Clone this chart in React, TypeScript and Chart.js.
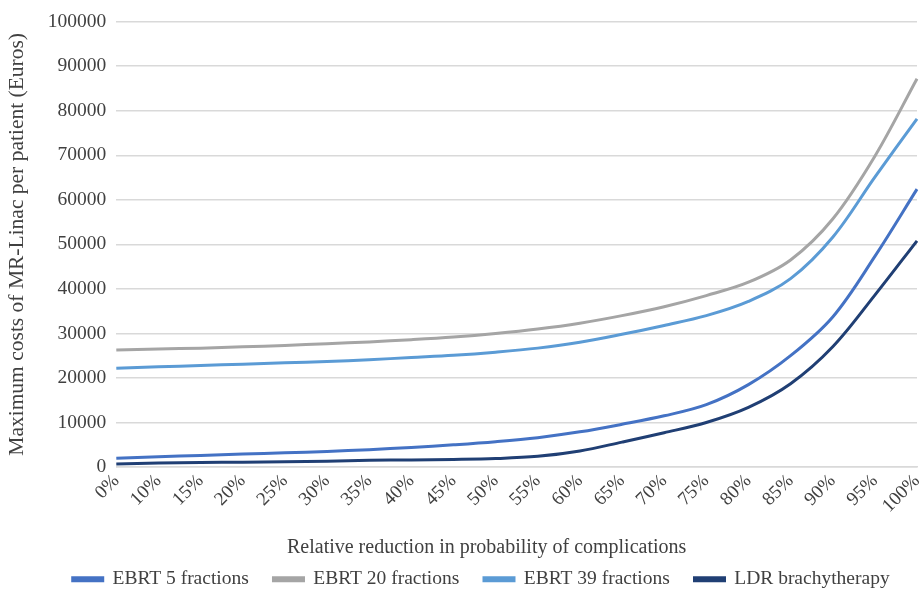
import React, { useEffect, useRef } from "react";
import { Chart, registerables } from "chart.js";

Chart.register(...registerables);

const categories = ["0%", "10%", "15%", "20%", "25%", "30%", "35%", "40%", "45%", "50%", "55%", "60%", "65%", "70%", "75%", "80%", "85%", "90%", "95%", "100%"];

const ebrt5 = [2000, 2300, 2600, 2900, 3200, 3500, 3900, 4400, 5000, 5700, 6600, 7900, 9600, 11500, 14000, 18500, 25000, 33700, 47300, 62400];
const ebrt20 = [26300, 26500, 26700, 27000, 27300, 27700, 28100, 28600, 29200, 30000, 31000, 32300, 34000, 36000, 38500, 41500, 46500, 55700, 69800, 87200];
const ebrt39 = [22200, 22500, 22800, 23100, 23400, 23700, 24100, 24600, 25100, 25800, 26700, 28000, 29800, 31800, 34000, 37200, 42300, 51600, 65100, 78200];
const ldr = [700, 900, 1000, 1100, 1200, 1300, 1500, 1600, 1700, 1900, 2400, 3600, 5600, 7700, 10000, 13400, 18700, 27000, 38600, 50800];

const seriesNames = ["EBRT 5 fractions", "EBRT 20 fractions", "EBRT 39 fractions", "LDR brachytherapy"];
const seriesColors = ["#4472C4", "#A5A5A5", "#5B9BD5", "#203F74"];

const yTicks = [0, 10000, 20000, 30000, 40000, 50000, 60000, 70000, 80000, 90000, 100000];

const xTitle = "Relative reduction in probability of complications";
const yTitle = "Maximum costs of MR-Linac per patient (Euros)";

export default function App() {
  const ref = useRef<HTMLCanvasElement | null>(null);
  useEffect(() => {
    if (!ref.current) return;
    const font = "'Liberation Serif', 'Times New Roman', serif";
    const values = [ebrt5, ebrt20, ebrt39, ldr];
    const shiftLegend = {
      id: "shiftLegend",
      afterLayout(chart: any) {
        const l = chart.legend;
        if (l) {
          l.left += 28;
          l.right += 28;
        }
      },
    };
    const chart = new Chart(ref.current, {
      type: "line",
      data: {
        labels: categories,
        datasets: values.map((v, i) => ({
          label: seriesNames[i],
          data: v,
          borderColor: seriesColors[i],
          backgroundColor: seriesColors[i],
          borderWidth: 3,
          pointRadius: 0,
          tension: 0.35,
          fill: false,
        })),
      },
      plugins: [shiftLegend],
      options: {
        animation: false,
        responsive: true,
        maintainAspectRatio: false,
        layout: { padding: { left: 4, right: 2, top: 14, bottom: -5 } },
        plugins: {
          legend: {
            position: "bottom",
            labels: {
              font: { family: font, size: 19.5 },
              color: "#404040",
              boxWidth: 30,
              boxHeight: 3,
              padding: 10,
              generateLabels: (chart: any) => {
                const items = Chart.defaults.plugins.legend.labels.generateLabels(chart);
                return items.map((it: any) => ({ ...it, text: it.text + "   " }));
              },
            },
          },
          tooltip: { enabled: false },
        },
        scales: {
          x: {
            offset: false,
            grid: { display: false, drawTicks: false },
            border: { display: true, color: "#D9D9D9", width: 1.5 },
            afterFit: (scale: any) => {
              scale.paddingRight = 0;
            },
            ticks: {
              maxRotation: 45,
              minRotation: 45,
              autoSkip: false,
              font: { family: font, size: 19 },
              color: "#404040",
              padding: 3,
            },
            title: {
              display: true,
              text: xTitle + "            ",
              font: { family: font, size: 20 },
              color: "#404040",
              padding: { top: 15, bottom: 0 },
            },
          },
          y: {
            min: 0,
            max: 100000,
            afterBuildTicks: (axis: any) => {
              axis.ticks = yTicks.map((v) => ({ value: v }));
            },
            grid: { color: "#D9D9D9", lineWidth: 1.5, drawTicks: false },
            border: { display: false },
            ticks: {
              font: { family: font, size: 19.5 },
              color: "#404040",
              padding: 10,
              callback: (v: any) => String(v),
            },
            title: {
              display: true,
              text: yTitle,
              font: { family: font, size: 21.5 },
              color: "#404040",
              padding: { top: 0, bottom: 8 },
            },
          },
        },
      },
    });
    return () => chart.destroy();
  }, []);
  return (
    <div style={{ position: "fixed", left: 0, top: 0, width: 919, height: 594, background: "#fff" }}>
      <canvas ref={ref} />
    </div>
  );
}
